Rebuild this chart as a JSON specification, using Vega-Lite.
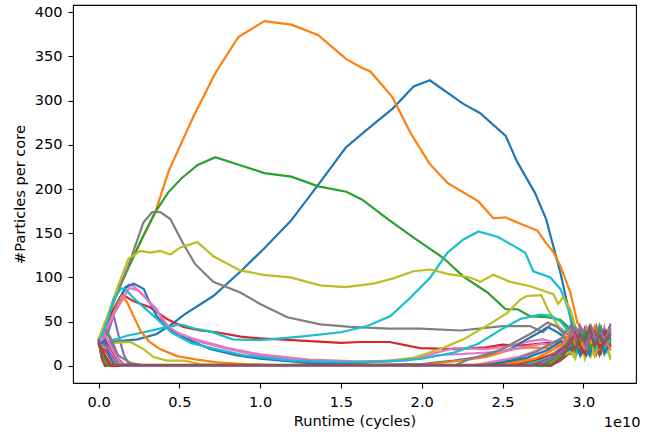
{
"$schema": "https://vega.github.io/schema/vega-lite/v6.json",
"width": 563, "height": 378,
"autosize": {"type": "none"},
"padding": {"left": 73, "top": 5, "right": 10, "bottom": 53},
"background": "white",
"config": {
 "view": {"stroke": "black", "strokeWidth": 1.1},
 "axis": {"labelFont": "DejaVu Sans", "titleFont": "DejaVu Sans", "labelFontSize": 14.6, "titleFontSize": 14.6, "labelColor": "black", "titleColor": "black", "titleFontWeight": "normal", "tickColor": "black", "tickSize": 5, "tickWidth": 1.1, "labelPadding": 6, "grid": false, "domain": false}
},
"datasets": {
 "runs": [
{"s":"c00","x":0,"y":25},{"s":"c00","x":0.13e10,"y":28},{"s":"c00","x":0.24e10,"y":30},{"s":"c00","x":0.36e10,"y":36},{"s":"c00","x":0.46e10,"y":48},{"s":"c00","x":0.53e10,"y":58},{"s":"c00","x":0.71e10,"y":79},{"s":"c00","x":0.88e10,"y":107},{"s":"c00","x":1.02e10,"y":132},{"s":"c00","x":1.19e10,"y":164},{"s":"c00","x":1.36e10,"y":205},{"s":"c00","x":1.53e10,"y":247},{"s":"c00","x":1.68e10,"y":270},{"s":"c00","x":1.82e10,"y":291},{"s":"c00","x":1.95e10,"y":316},{"s":"c00","x":2.05e10,"y":323},{"s":"c00","x":2.26e10,"y":296},{"s":"c00","x":2.36e10,"y":286},{"s":"c00","x":2.52e10,"y":260},{"s":"c00","x":2.59e10,"y":231},{"s":"c00","x":2.7e10,"y":196},{"s":"c00","x":2.77e10,"y":166},{"s":"c00","x":2.86e10,"y":104},{"s":"c00","x":2.95e10,"y":30},{"s":"c00","x":2.98e10,"y":20},{"s":"c00","x":3.01e10,"y":31},{"s":"c00","x":3.04e10,"y":16},{"s":"c00","x":3.07e10,"y":27},{"s":"c00","x":3.10e10,"y":13},{"s":"c00","x":3.13e10,"y":24},{"s":"c00","x":3.168e10,"y":19},
{"s":"c01","x":0,"y":28},{"s":"c01","x":0.05e10,"y":52},{"s":"c01","x":0.12e10,"y":86},{"s":"c01","x":0.175e10,"y":108},{"s":"c01","x":0.26e10,"y":140},{"s":"c01","x":0.351e10,"y":174},{"s":"c01","x":0.433e10,"y":220},{"s":"c01","x":0.587e10,"y":282},{"s":"c01","x":0.722e10,"y":331},{"s":"c01","x":0.865e10,"y":372},{"s":"c01","x":1.026e10,"y":390},{"s":"c01","x":1.193e10,"y":386},{"s":"c01","x":1.36e10,"y":374},{"s":"c01","x":1.533e10,"y":347},{"s":"c01","x":1.62e10,"y":338},{"s":"c01","x":1.682e10,"y":333},{"s":"c01","x":1.818e10,"y":304},{"s":"c01","x":1.929e10,"y":264},{"s":"c01","x":2.047e10,"y":229},{"s":"c01","x":2.159e10,"y":207},{"s":"c01","x":2.351e10,"y":186},{"s":"c01","x":2.443e10,"y":167},{"s":"c01","x":2.517e10,"y":168},{"s":"c01","x":2.622e10,"y":160},{"s":"c01","x":2.716e10,"y":153},{"s":"c01","x":2.765e10,"y":140},{"s":"c01","x":2.814e10,"y":129},{"s":"c01","x":2.858e10,"y":113},{"s":"c01","x":2.92e10,"y":83},{"s":"c01","x":2.963e10,"y":49},{"s":"c01","x":3.0e10,"y":38},{"s":"c01","x":3.03e10,"y":26},{"s":"c01","x":3.06e10,"y":41},{"s":"c01","x":3.09e10,"y":23},{"s":"c01","x":3.12e10,"y":36},{"s":"c01","x":3.168e10,"y":28},
{"s":"c02","x":0,"y":28},{"s":"c02","x":0.05e10,"y":52},{"s":"c02","x":0.12e10,"y":85},{"s":"c02","x":0.175e10,"y":107},{"s":"c02","x":0.26e10,"y":141},{"s":"c02","x":0.351e10,"y":174},{"s":"c02","x":0.43e10,"y":196},{"s":"c02","x":0.512e10,"y":212},{"s":"c02","x":0.611e10,"y":227},{"s":"c02","x":0.722e10,"y":236},{"s":"c02","x":0.877e10,"y":227},{"s":"c02","x":1.026e10,"y":218},{"s":"c02","x":1.193e10,"y":214},{"s":"c02","x":1.36e10,"y":203},{"s":"c02","x":1.533e10,"y":197},{"s":"c02","x":1.632e10,"y":188},{"s":"c02","x":1.79e10,"y":166},{"s":"c02","x":1.95e10,"y":145},{"s":"c02","x":2.134e10,"y":122},{"s":"c02","x":2.258e10,"y":101},{"s":"c02","x":2.407e10,"y":83},{"s":"c02","x":2.519e10,"y":64},{"s":"c02","x":2.593e10,"y":64},{"s":"c02","x":2.674e10,"y":56},{"s":"c02","x":2.78e10,"y":55},{"s":"c02","x":2.858e10,"y":52},{"s":"c02","x":2.939e10,"y":38},{"s":"c02","x":2.97e10,"y":28},{"s":"c02","x":3.0e10,"y":35},{"s":"c02","x":3.03e10,"y":20},{"s":"c02","x":3.06e10,"y":30},{"s":"c02","x":3.09e10,"y":41},{"s":"c02","x":3.12e10,"y":22},{"s":"c02","x":3.168e10,"y":33},
{"s":"c03","x":0,"y":25},{"s":"c03","x":0.03e10,"y":34},{"s":"c03","x":0.072e10,"y":58},{"s":"c03","x":0.145e10,"y":81},{"s":"c03","x":0.217e10,"y":73},{"s":"c03","x":0.32e10,"y":66},{"s":"c03","x":0.423e10,"y":53},{"s":"c03","x":0.525e10,"y":44},{"s":"c03","x":0.63e10,"y":40},{"s":"c03","x":0.73e10,"y":38},{"s":"c03","x":0.88e10,"y":33},{"s":"c03","x":1.0e10,"y":31},{"s":"c03","x":1.2e10,"y":29},{"s":"c03","x":1.5e10,"y":26},{"s":"c03","x":1.62e10,"y":27},{"s":"c03","x":1.8e10,"y":27},{"s":"c03","x":1.99e10,"y":20},{"s":"c03","x":2.2e10,"y":19},{"s":"c03","x":2.4e10,"y":21},{"s":"c03","x":2.5e10,"y":24},{"s":"c03","x":2.61e10,"y":23},{"s":"c03","x":2.78e10,"y":26},{"s":"c03","x":2.86e10,"y":28},{"s":"c03","x":2.92e10,"y":30},{"s":"c03","x":2.95e10,"y":22},{"s":"c03","x":2.98e10,"y":35},{"s":"c03","x":3.01e10,"y":19},{"s":"c03","x":3.04e10,"y":31},{"s":"c03","x":3.07e10,"y":40},{"s":"c03","x":3.10e10,"y":18},{"s":"c03","x":3.13e10,"y":29},{"s":"c03","x":3.168e10,"y":24},
{"s":"c04","x":0,"y":25},{"s":"c04","x":0.06e10,"y":38},{"s":"c04","x":0.093e10,"y":57},{"s":"c04","x":0.124e10,"y":34},{"s":"c04","x":0.155e10,"y":13},{"s":"c04","x":0.19e10,"y":1},{"s":"c04","x":0.25e10,"y":0},{"s":"c04","x":2.7e10,"y":0},{"s":"c04","x":2.8e10,"y":6},{"s":"c04","x":2.88e10,"y":14},{"s":"c04","x":2.92e10,"y":22},{"s":"c04","x":2.95e10,"y":38},{"s":"c04","x":2.98e10,"y":17},{"s":"c04","x":3.01e10,"y":40},{"s":"c04","x":3.04e10,"y":24},{"s":"c04","x":3.07e10,"y":44},{"s":"c04","x":3.10e10,"y":20},{"s":"c04","x":3.13e10,"y":37},{"s":"c04","x":3.168e10,"y":26},
{"s":"c05","x":0,"y":30},{"s":"c05","x":0.02e10,"y":10},{"s":"c05","x":0.04e10,"y":0},{"s":"c05","x":2.75e10,"y":0},{"s":"c05","x":2.85e10,"y":5},{"s":"c05","x":2.92e10,"y":15},{"s":"c05","x":2.95e10,"y":28},{"s":"c05","x":2.98e10,"y":38},{"s":"c05","x":3.01e10,"y":20},{"s":"c05","x":3.04e10,"y":33},{"s":"c05","x":3.07e10,"y":14},{"s":"c05","x":3.10e10,"y":30},{"s":"c05","x":3.13e10,"y":42},{"s":"c05","x":3.168e10,"y":21},
{"s":"c06","x":0,"y":25},{"s":"c06","x":0.05e10,"y":40},{"s":"c06","x":0.1e10,"y":62},{"s":"c06","x":0.15e10,"y":82},{"s":"c06","x":0.186e10,"y":92},{"s":"c06","x":0.217e10,"y":90},{"s":"c06","x":0.279e10,"y":79},{"s":"c06","x":0.36e10,"y":64},{"s":"c06","x":0.423e10,"y":42},{"s":"c06","x":0.485e10,"y":38},{"s":"c06","x":0.61e10,"y":28},{"s":"c06","x":0.8e10,"y":19},{"s":"c06","x":1.0e10,"y":11},{"s":"c06","x":1.31e10,"y":6},{"s":"c06","x":1.62e10,"y":4},{"s":"c06","x":1.8e10,"y":6},{"s":"c06","x":1.99e10,"y":10},{"s":"c06","x":2.2e10,"y":20},{"s":"c06","x":2.4e10,"y":19},{"s":"c06","x":2.53e10,"y":22},{"s":"c06","x":2.67e10,"y":28},{"s":"c06","x":2.75e10,"y":30},{"s":"c06","x":2.85e10,"y":25},{"s":"c06","x":2.92e10,"y":33},{"s":"c06","x":2.95e10,"y":18},{"s":"c06","x":2.98e10,"y":29},{"s":"c06","x":3.01e10,"y":37},{"s":"c06","x":3.04e10,"y":15},{"s":"c06","x":3.07e10,"y":26},{"s":"c06","x":3.10e10,"y":39},{"s":"c06","x":3.13e10,"y":17},{"s":"c06","x":3.168e10,"y":31},
{"s":"c07","x":0,"y":30},{"s":"c07","x":0.05e10,"y":52},{"s":"c07","x":0.12e10,"y":85},{"s":"c07","x":0.178e10,"y":110},{"s":"c07","x":0.277e10,"y":162},{"s":"c07","x":0.332e10,"y":174},{"s":"c07","x":0.382e10,"y":174},{"s":"c07","x":0.444e10,"y":166},{"s":"c07","x":0.518e10,"y":140},{"s":"c07","x":0.598e10,"y":115},{"s":"c07","x":0.71e10,"y":95},{"s":"c07","x":0.877e10,"y":83},{"s":"c07","x":1.0e10,"y":70},{"s":"c07","x":1.168e10,"y":55},{"s":"c07","x":1.372e10,"y":47},{"s":"c07","x":1.558e10,"y":44},{"s":"c07","x":1.8e10,"y":42},{"s":"c07","x":1.99e10,"y":42},{"s":"c07","x":2.24e10,"y":40},{"s":"c07","x":2.5e10,"y":45},{"s":"c07","x":2.67e10,"y":45},{"s":"c07","x":2.75e10,"y":38},{"s":"c07","x":2.8e10,"y":47},{"s":"c07","x":2.85e10,"y":44},{"s":"c07","x":2.9e10,"y":36},{"s":"c07","x":2.93e10,"y":28},{"s":"c07","x":2.96e10,"y":41},{"s":"c07","x":2.99e10,"y":24},{"s":"c07","x":3.02e10,"y":37},{"s":"c07","x":3.05e10,"y":30},{"s":"c07","x":3.08e10,"y":45},{"s":"c07","x":3.11e10,"y":27},{"s":"c07","x":3.14e10,"y":35},{"s":"c07","x":3.168e10,"y":46},
{"s":"c08","x":0,"y":22},{"s":"c08","x":0.1e10,"y":26},{"s":"c08","x":0.197e10,"y":27},{"s":"c08","x":0.278e10,"y":19},{"s":"c08","x":0.34e10,"y":10},{"s":"c08","x":0.423e10,"y":6},{"s":"c08","x":0.525e10,"y":6},{"s":"c08","x":0.63e10,"y":2},{"s":"c08","x":0.9e10,"y":0},{"s":"c08","x":1.5e10,"y":2},{"s":"c08","x":1.8e10,"y":5},{"s":"c08","x":1.95e10,"y":9},{"s":"c08","x":2.116e10,"y":19},{"s":"c08","x":2.258e10,"y":30},{"s":"c08","x":2.4e10,"y":45},{"s":"c08","x":2.53e10,"y":60},{"s":"c08","x":2.61e10,"y":75},{"s":"c08","x":2.65e10,"y":79},{"s":"c08","x":2.74e10,"y":80},{"s":"c08","x":2.78e10,"y":64},{"s":"c08","x":2.82e10,"y":52},{"s":"c08","x":2.88e10,"y":36},{"s":"c08","x":2.92e10,"y":24},{"s":"c08","x":2.95e10,"y":12},{"s":"c08","x":2.98e10,"y":30},{"s":"c08","x":3.01e10,"y":8},{"s":"c08","x":3.04e10,"y":27},{"s":"c08","x":3.07e10,"y":35},{"s":"c08","x":3.10e10,"y":15},{"s":"c08","x":3.13e10,"y":32},{"s":"c08","x":3.168e10,"y":10},
{"s":"c09","x":0,"y":27},{"s":"c09","x":0.07e10,"y":28},{"s":"c09","x":0.175e10,"y":34},{"s":"c09","x":0.28e10,"y":38},{"s":"c09","x":0.4e10,"y":43},{"s":"c09","x":0.506e10,"y":47},{"s":"c09","x":0.6e10,"y":42},{"s":"c09","x":0.69e10,"y":39},{"s":"c09","x":0.83e10,"y":30},{"s":"c09","x":1.0e10,"y":29},{"s":"c09","x":1.25e10,"y":33},{"s":"c09","x":1.5e10,"y":38},{"s":"c09","x":1.662e10,"y":45},{"s":"c09","x":1.805e10,"y":56},{"s":"c09","x":1.929e10,"y":77},{"s":"c09","x":2.053e10,"y":100},{"s":"c09","x":2.159e10,"y":128},{"s":"c09","x":2.258e10,"y":143},{"s":"c09","x":2.351e10,"y":152},{"s":"c09","x":2.468e10,"y":146},{"s":"c09","x":2.567e10,"y":136},{"s":"c09","x":2.641e10,"y":128},{"s":"c09","x":2.69e10,"y":107},{"s":"c09","x":2.796e10,"y":100},{"s":"c09","x":2.858e10,"y":87},{"s":"c09","x":2.9e10,"y":68},{"s":"c09","x":2.95e10,"y":40},{"s":"c09","x":2.98e10,"y":25},{"s":"c09","x":3.01e10,"y":36},{"s":"c09","x":3.04e10,"y":21},{"s":"c09","x":3.07e10,"y":33},{"s":"c09","x":3.10e10,"y":43},{"s":"c09","x":3.13e10,"y":19},{"s":"c09","x":3.168e10,"y":29},
{"s":"c10","x":0,"y":25},{"s":"c10","x":0.05e10,"y":42},{"s":"c10","x":0.1e10,"y":65},{"s":"c10","x":0.166e10,"y":89},{"s":"c10","x":0.217e10,"y":93},{"s":"c10","x":0.28e10,"y":87},{"s":"c10","x":0.31e10,"y":74},{"s":"c10","x":0.36e10,"y":56},{"s":"c10","x":0.42e10,"y":44},{"s":"c10","x":0.506e10,"y":34},{"s":"c10","x":0.6e10,"y":26},{"s":"c10","x":0.69e10,"y":19},{"s":"c10","x":0.85e10,"y":12},{"s":"c10","x":1.0e10,"y":8},{"s":"c10","x":1.31e10,"y":3},{"s":"c10","x":1.7e10,"y":1},{"s":"c10","x":2.0e10,"y":2},{"s":"c10","x":2.2e10,"y":6},{"s":"c10","x":2.4e10,"y":11},{"s":"c10","x":2.55e10,"y":19},{"s":"c10","x":2.63e10,"y":28},{"s":"c10","x":2.73e10,"y":38},{"s":"c10","x":2.78e10,"y":44},{"s":"c10","x":2.84e10,"y":38},{"s":"c10","x":2.9e10,"y":30},{"s":"c10","x":2.93e10,"y":17},{"s":"c10","x":2.96e10,"y":35},{"s":"c10","x":2.99e10,"y":22},{"s":"c10","x":3.02e10,"y":12},{"s":"c10","x":3.05e10,"y":29},{"s":"c10","x":3.08e10,"y":38},{"s":"c10","x":3.11e10,"y":16},{"s":"c10","x":3.14e10,"y":27},{"s":"c10","x":3.168e10,"y":34},
{"s":"c11","x":0,"y":25},{"s":"c11","x":0.05e10,"y":42},{"s":"c11","x":0.1e10,"y":63},{"s":"c11","x":0.145e10,"y":79},{"s":"c11","x":0.176e10,"y":72},{"s":"c11","x":0.217e10,"y":56},{"s":"c11","x":0.258e10,"y":40},{"s":"c11","x":0.31e10,"y":28},{"s":"c11","x":0.38e10,"y":19},{"s":"c11","x":0.485e10,"y":11},{"s":"c11","x":0.61e10,"y":7},{"s":"c11","x":0.733e10,"y":4},{"s":"c11","x":0.9e10,"y":2},{"s":"c11","x":1.2e10,"y":0},{"s":"c11","x":2.0e10,"y":1},{"s":"c11","x":2.24e10,"y":6},{"s":"c11","x":2.4e10,"y":10},{"s":"c11","x":2.49e10,"y":15},{"s":"c11","x":2.55e10,"y":19},{"s":"c11","x":2.67e10,"y":21},{"s":"c11","x":2.78e10,"y":20},{"s":"c11","x":2.86e10,"y":24},{"s":"c11","x":2.92e10,"y":31},{"s":"c11","x":2.95e10,"y":16},{"s":"c11","x":2.98e10,"y":27},{"s":"c11","x":3.01e10,"y":42},{"s":"c11","x":3.04e10,"y":19},{"s":"c11","x":3.07e10,"y":30},{"s":"c11","x":3.10e10,"y":24},{"s":"c11","x":3.13e10,"y":38},{"s":"c11","x":3.168e10,"y":22},
{"s":"c12","x":0,"y":25},{"s":"c12","x":0.04e10,"y":40},{"s":"c12","x":0.08e10,"y":28},{"s":"c12","x":0.12e10,"y":8},{"s":"c12","x":0.16e10,"y":0},{"s":"c12","x":2.6e10,"y":0},{"s":"c12","x":2.75e10,"y":5},{"s":"c12","x":2.85e10,"y":14},{"s":"c12","x":2.92e10,"y":27},{"s":"c12","x":2.95e10,"y":40},{"s":"c12","x":2.98e10,"y":21},{"s":"c12","x":3.01e10,"y":33},{"s":"c12","x":3.04e10,"y":45},{"s":"c12","x":3.07e10,"y":18},{"s":"c12","x":3.10e10,"y":36},{"s":"c12","x":3.13e10,"y":25},{"s":"c12","x":3.168e10,"y":40},
{"s":"c13","x":0,"y":25},{"s":"c13","x":0.04e10,"y":30},{"s":"c13","x":0.08e10,"y":18},{"s":"c13","x":0.12e10,"y":5},{"s":"c13","x":0.16e10,"y":0},{"s":"c13","x":2.72e10,"y":0},{"s":"c13","x":2.83e10,"y":8},{"s":"c13","x":2.9e10,"y":20},{"s":"c13","x":2.93e10,"y":34},{"s":"c13","x":2.96e10,"y":18},{"s":"c13","x":2.99e10,"y":28},{"s":"c13","x":3.02e10,"y":39},{"s":"c13","x":3.05e10,"y":21},{"s":"c13","x":3.08e10,"y":32},{"s":"c13","x":3.11e10,"y":15},{"s":"c13","x":3.14e10,"y":36},{"s":"c13","x":3.168e10,"y":27},
{"s":"c14","x":0,"y":30},{"s":"c14","x":0.04e10,"y":48},{"s":"c14","x":0.08e10,"y":25},{"s":"c14","x":0.12e10,"y":8},{"s":"c14","x":0.17e10,"y":0},{"s":"c14","x":2.6e10,"y":0},{"s":"c14","x":2.75e10,"y":6},{"s":"c14","x":2.85e10,"y":15},{"s":"c14","x":2.92e10,"y":29},{"s":"c14","x":2.95e10,"y":44},{"s":"c14","x":2.98e10,"y":25},{"s":"c14","x":3.01e10,"y":15},{"s":"c14","x":3.04e10,"y":38},{"s":"c14","x":3.07e10,"y":27},{"s":"c14","x":3.10e10,"y":45},{"s":"c14","x":3.13e10,"y":20},{"s":"c14","x":3.168e10,"y":35},
{"s":"c15","x":0,"y":28},{"s":"c15","x":0.02e10,"y":12},{"s":"c15","x":0.04e10,"y":0},{"s":"c15","x":2.8e10,"y":0},{"s":"c15","x":2.88e10,"y":9},{"s":"c15","x":2.93e10,"y":21},{"s":"c15","x":2.96e10,"y":33},{"s":"c15","x":2.99e10,"y":14},{"s":"c15","x":3.02e10,"y":29},{"s":"c15","x":3.05e10,"y":41},{"s":"c15","x":3.08e10,"y":19},{"s":"c15","x":3.11e10,"y":34},{"s":"c15","x":3.14e10,"y":23},{"s":"c15","x":3.168e10,"y":38},
{"s":"c16","x":0,"y":25},{"s":"c16","x":0.1e10,"y":60},{"s":"c16","x":0.19e10,"y":88},{"s":"c16","x":0.25e10,"y":85},{"s":"c16","x":0.3e10,"y":75},{"s":"c16","x":0.36e10,"y":62},{"s":"c16","x":0.43e10,"y":45},{"s":"c16","x":0.5e10,"y":36},{"s":"c16","x":0.6e10,"y":30},{"s":"c16","x":0.8e10,"y":20},{"s":"c16","x":1.0e10,"y":13},{"s":"c16","x":1.3e10,"y":7},{"s":"c16","x":1.6e10,"y":5},{"s":"c16","x":1.9e10,"y":6},{"s":"c16","x":2.1e10,"y":12},{"s":"c16","x":2.3e10,"y":14},{"s":"c16","x":2.5e10,"y":16},{"s":"c16","x":2.65e10,"y":22},{"s":"c16","x":2.75e10,"y":25},{"s":"c16","x":2.85e10,"y":22},{"s":"c16","x":2.92e10,"y":37},{"s":"c16","x":2.95e10,"y":23},{"s":"c16","x":2.98e10,"y":14},{"s":"c16","x":3.01e10,"y":31},{"s":"c16","x":3.04e10,"y":42},{"s":"c16","x":3.07e10,"y":20},{"s":"c16","x":3.10e10,"y":28},{"s":"c16","x":3.13e10,"y":44},{"s":"c16","x":3.168e10,"y":17},
{"s":"c17","x":0,"y":30},{"s":"c17","x":0.04e10,"y":42},{"s":"c17","x":0.08e10,"y":30},{"s":"c17","x":0.12e10,"y":12},{"s":"c17","x":0.2e10,"y":3},{"s":"c17","x":0.3e10,"y":0},{"s":"c17","x":2.2e10,"y":0},{"s":"c17","x":2.3e10,"y":8},{"s":"c17","x":2.4e10,"y":13},{"s":"c17","x":2.5e10,"y":19},{"s":"c17","x":2.61e10,"y":30},{"s":"c17","x":2.69e10,"y":38},{"s":"c17","x":2.78e10,"y":49},{"s":"c17","x":2.84e10,"y":44},{"s":"c17","x":2.88e10,"y":36},{"s":"c17","x":2.92e10,"y":45},{"s":"c17","x":2.95e10,"y":30},{"s":"c17","x":2.98e10,"y":20},{"s":"c17","x":3.01e10,"y":38},{"s":"c17","x":3.04e10,"y":29},{"s":"c17","x":3.07e10,"y":16},{"s":"c17","x":3.10e10,"y":41},{"s":"c17","x":3.13e10,"y":33},{"s":"c17","x":3.168e10,"y":24},
{"s":"c18","x":0,"y":30},{"s":"c18","x":0.05e10,"y":54},{"s":"c18","x":0.12e10,"y":90},{"s":"c18","x":0.184e10,"y":121},{"s":"c18","x":0.258e10,"y":130},{"s":"c18","x":0.32e10,"y":128},{"s":"c18","x":0.382e10,"y":130},{"s":"c18","x":0.444e10,"y":126},{"s":"c18","x":0.506e10,"y":134},{"s":"c18","x":0.611e10,"y":140},{"s":"c18","x":0.71e10,"y":124},{"s":"c18","x":0.877e10,"y":108},{"s":"c18","x":1.02e10,"y":103},{"s":"c18","x":1.186e10,"y":100},{"s":"c18","x":1.372e10,"y":91},{"s":"c18","x":1.527e10,"y":89},{"s":"c18","x":1.7e10,"y":93},{"s":"c18","x":1.824e10,"y":99},{"s":"c18","x":1.948e10,"y":107},{"s":"c18","x":2.053e10,"y":109},{"s":"c18","x":2.159e10,"y":104},{"s":"c18","x":2.3e10,"y":100},{"s":"c18","x":2.362e10,"y":95},{"s":"c18","x":2.443e10,"y":103},{"s":"c18","x":2.548e10,"y":95},{"s":"c18","x":2.672e10,"y":90},{"s":"c18","x":2.814e10,"y":81},{"s":"c18","x":2.845e10,"y":70},{"s":"c18","x":2.876e10,"y":78},{"s":"c18","x":2.92e10,"y":64},{"s":"c18","x":2.96e10,"y":38},{"s":"c18","x":2.99e10,"y":22},{"s":"c18","x":3.02e10,"y":33},{"s":"c18","x":3.05e10,"y":12},{"s":"c18","x":3.08e10,"y":28},{"s":"c18","x":3.11e10,"y":37},{"s":"c18","x":3.14e10,"y":18},{"s":"c18","x":3.168e10,"y":30},
{"s":"c19","x":0,"y":25},{"s":"c19","x":0.05e10,"y":48},{"s":"c19","x":0.093e10,"y":75},{"s":"c19","x":0.14e10,"y":88},{"s":"c19","x":0.17e10,"y":86},{"s":"c19","x":0.22e10,"y":76},{"s":"c19","x":0.3e10,"y":63},{"s":"c19","x":0.38e10,"y":50},{"s":"c19","x":0.45e10,"y":38},{"s":"c19","x":0.57e10,"y":26},{"s":"c19","x":0.7e10,"y":20},{"s":"c19","x":0.9e10,"y":12},{"s":"c19","x":1.2e10,"y":6},{"s":"c19","x":1.5e10,"y":4},{"s":"c19","x":1.8e10,"y":5},{"s":"c19","x":2.0e10,"y":8},{"s":"c19","x":2.2e10,"y":15},{"s":"c19","x":2.35e10,"y":25},{"s":"c19","x":2.49e10,"y":41},{"s":"c19","x":2.61e10,"y":53},{"s":"c19","x":2.73e10,"y":58},{"s":"c19","x":2.8e10,"y":57},{"s":"c19","x":2.86e10,"y":50},{"s":"c19","x":2.92e10,"y":36},{"s":"c19","x":2.95e10,"y":26},{"s":"c19","x":2.98e10,"y":42},{"s":"c19","x":3.01e10,"y":24},{"s":"c19","x":3.04e10,"y":17},{"s":"c19","x":3.07e10,"y":38},{"s":"c19","x":3.10e10,"y":29},{"s":"c19","x":3.13e10,"y":13},{"s":"c19","x":3.168e10,"y":32},
{"s":"c20","x":0,"y":26},{"s":"c20","x":0.03e10,"y":14},{"s":"c20","x":0.06e10,"y":0},{"s":"c20","x":2.5e10,"y":0},{"s":"c20","x":2.65e10,"y":4},{"s":"c20","x":2.8e10,"y":12},{"s":"c20","x":2.88e10,"y":22},{"s":"c20","x":2.92e10,"y":14},{"s":"c20","x":2.95e10,"y":31},{"s":"c20","x":2.98e10,"y":43},{"s":"c20","x":3.01e10,"y":26},{"s":"c20","x":3.04e10,"y":12},{"s":"c20","x":3.07e10,"y":34},{"s":"c20","x":3.10e10,"y":22},{"s":"c20","x":3.13e10,"y":40},{"s":"c20","x":3.168e10,"y":28},
{"s":"c21","x":0,"y":25},{"s":"c21","x":0.04e10,"y":12},{"s":"c21","x":0.08e10,"y":0},{"s":"c21","x":2.45e10,"y":0},{"s":"c21","x":2.6e10,"y":5},{"s":"c21","x":2.75e10,"y":10},{"s":"c21","x":2.85e10,"y":16},{"s":"c21","x":2.92e10,"y":27},{"s":"c21","x":2.95e10,"y":39},{"s":"c21","x":2.98e10,"y":18},{"s":"c21","x":3.01e10,"y":30},{"s":"c21","x":3.04e10,"y":22},{"s":"c21","x":3.07e10,"y":41},{"s":"c21","x":3.10e10,"y":33},{"s":"c21","x":3.13e10,"y":14},{"s":"c21","x":3.168e10,"y":26},
{"s":"c22","x":0,"y":25},{"s":"c22","x":0.03e10,"y":10},{"s":"c22","x":0.06e10,"y":0},{"s":"c22","x":2.7e10,"y":0},{"s":"c22","x":2.82e10,"y":8},{"s":"c22","x":2.9e10,"y":18},{"s":"c22","x":2.93e10,"y":36},{"s":"c22","x":2.96e10,"y":25},{"s":"c22","x":2.99e10,"y":40},{"s":"c22","x":3.02e10,"y":16},{"s":"c22","x":3.05e10,"y":32},{"s":"c22","x":3.08e10,"y":24},{"s":"c22","x":3.11e10,"y":43},{"s":"c22","x":3.14e10,"y":19},{"s":"c22","x":3.168e10,"y":31},
{"s":"c23","x":0,"y":28},{"s":"c23","x":0.05e10,"y":15},{"s":"c23","x":0.1e10,"y":2},{"s":"c23","x":0.14e10,"y":0},{"s":"c23","x":2.55e10,"y":0},{"s":"c23","x":2.7e10,"y":6},{"s":"c23","x":2.83e10,"y":14},{"s":"c23","x":2.9e10,"y":25},{"s":"c23","x":2.93e10,"y":17},{"s":"c23","x":2.96e10,"y":29},{"s":"c23","x":2.99e10,"y":41},{"s":"c23","x":3.02e10,"y":23},{"s":"c23","x":3.05e10,"y":35},{"s":"c23","x":3.08e10,"y":13},{"s":"c23","x":3.11e10,"y":28},{"s":"c23","x":3.14e10,"y":39},{"s":"c23","x":3.168e10,"y":22},
{"s":"c24","x":0,"y":26},{"s":"c24","x":0.03e10,"y":30},{"s":"c24","x":0.06e10,"y":12},{"s":"c24","x":0.1e10,"y":0},{"s":"c24","x":2.65e10,"y":0},{"s":"c24","x":2.78e10,"y":7},{"s":"c24","x":2.86e10,"y":18},{"s":"c24","x":2.92e10,"y":35},{"s":"c24","x":2.95e10,"y":21},{"s":"c24","x":2.98e10,"y":45},{"s":"c24","x":3.01e10,"y":27},{"s":"c24","x":3.04e10,"y":36},{"s":"c24","x":3.07e10,"y":17},{"s":"c24","x":3.10e10,"y":42},{"s":"c24","x":3.13e10,"y":29},{"s":"c24","x":3.168e10,"y":44},
{"s":"c25","x":0,"y":30},{"s":"c25","x":0.02e10,"y":8},{"s":"c25","x":0.04e10,"y":0},{"s":"c25","x":2.78e10,"y":0},{"s":"c25","x":2.86e10,"y":10},{"s":"c25","x":2.92e10,"y":24},{"s":"c25","x":2.95e10,"y":36},{"s":"c25","x":2.98e10,"y":19},{"s":"c25","x":3.01e10,"y":42},{"s":"c25","x":3.04e10,"y":26},{"s":"c25","x":3.07e10,"y":31},{"s":"c25","x":3.10e10,"y":13},{"s":"c25","x":3.13e10,"y":35},{"s":"c25","x":3.168e10,"y":29},
{"s":"c26","x":0,"y":25},{"s":"c26","x":0.04e10,"y":35},{"s":"c26","x":0.08e10,"y":20},{"s":"c26","x":0.13e10,"y":4},{"s":"c26","x":0.2e10,"y":0},{"s":"c26","x":2.3e10,"y":0},{"s":"c26","x":2.45e10,"y":5},{"s":"c26","x":2.6e10,"y":10},{"s":"c26","x":2.72e10,"y":18},{"s":"c26","x":2.82e10,"y":27},{"s":"c26","x":2.9e10,"y":24},{"s":"c26","x":2.93e10,"y":39},{"s":"c26","x":2.96e10,"y":20},{"s":"c26","x":2.99e10,"y":31},{"s":"c26","x":3.02e10,"y":44},{"s":"c26","x":3.05e10,"y":25},{"s":"c26","x":3.08e10,"y":18},{"s":"c26","x":3.11e10,"y":36},{"s":"c26","x":3.14e10,"y":27},{"s":"c26","x":3.168e10,"y":41},
{"s":"c27","x":0,"y":25},{"s":"c27","x":0.03e10,"y":12},{"s":"c27","x":0.06e10,"y":0},{"s":"c27","x":2.4e10,"y":0},{"s":"c27","x":2.55e10,"y":6},{"s":"c27","x":2.7e10,"y":15},{"s":"c27","x":2.8e10,"y":25},{"s":"c27","x":2.88e10,"y":33},{"s":"c27","x":2.92e10,"y":20},{"s":"c27","x":2.95e10,"y":43},{"s":"c27","x":2.98e10,"y":32},{"s":"c27","x":3.01e10,"y":18},{"s":"c27","x":3.04e10,"y":37},{"s":"c27","x":3.07e10,"y":25},{"s":"c27","x":3.10e10,"y":46},{"s":"c27","x":3.13e10,"y":22},{"s":"c27","x":3.168e10,"y":48},
{"s":"c28","x":0,"y":24},{"s":"c28","x":0.05e10,"y":20},{"s":"c28","x":0.1e10,"y":5},{"s":"c28","x":0.15e10,"y":0},{"s":"c28","x":2.75e10,"y":0},{"s":"c28","x":2.85e10,"y":9},{"s":"c28","x":2.92e10,"y":16},{"s":"c28","x":2.95e10,"y":8},{"s":"c28","x":2.98e10,"y":27},{"s":"c28","x":3.01e10,"y":19},{"s":"c28","x":3.04e10,"y":34},{"s":"c28","x":3.07e10,"y":11},{"s":"c28","x":3.10e10,"y":25},{"s":"c28","x":3.13e10,"y":30},{"s":"c28","x":3.168e10,"y":7},
{"s":"c29","x":0,"y":27},{"s":"c29","x":0.03e10,"y":15},{"s":"c29","x":0.07e10,"y":0},{"s":"c29","x":2.6e10,"y":0},{"s":"c29","x":2.72e10,"y":5},{"s":"c29","x":2.82e10,"y":12},{"s":"c29","x":2.9e10,"y":22},{"s":"c29","x":2.93e10,"y":30},{"s":"c29","x":2.96e10,"y":15},{"s":"c29","x":2.99e10,"y":37},{"s":"c29","x":3.02e10,"y":26},{"s":"c29","x":3.05e10,"y":42},{"s":"c29","x":3.08e10,"y":20},{"s":"c29","x":3.11e10,"y":31},{"s":"c29","x":3.14e10,"y":16},{"s":"c29","x":3.168e10,"y":35},
{"s":"c30","x":0,"y":25},{"s":"c30","x":0.04e10,"y":28},{"s":"c30","x":0.07e10,"y":10},{"s":"c30","x":0.1e10,"y":0},{"s":"c30","x":2.35e10,"y":0},{"s":"c30","x":2.5e10,"y":4},{"s":"c30","x":2.65e10,"y":9},{"s":"c30","x":2.78e10,"y":18},{"s":"c30","x":2.86e10,"y":28},{"s":"c30","x":2.92e10,"y":19},{"s":"c30","x":2.95e10,"y":29},{"s":"c30","x":2.98e10,"y":12},{"s":"c30","x":3.01e10,"y":34},{"s":"c30","x":3.04e10,"y":40},{"s":"c30","x":3.07e10,"y":23},{"s":"c30","x":3.10e10,"y":37},{"s":"c30","x":3.13e10,"y":15},{"s":"c30","x":3.168e10,"y":25},
{"s":"c31","x":0,"y":25},{"s":"c31","x":0.03e10,"y":10},{"s":"c31","x":0.06e10,"y":0},{"s":"c31","x":2.5e10,"y":0},{"s":"c31","x":2.7e10,"y":8},{"s":"c31","x":2.8e10,"y":17},{"s":"c31","x":2.88e10,"y":25},{"s":"c31","x":2.92e10,"y":40},{"s":"c31","x":2.95e10,"y":22},{"s":"c31","x":2.98e10,"y":33},{"s":"c31","x":3.01e10,"y":16},{"s":"c31","x":3.04e10,"y":29},{"s":"c31","x":3.07e10,"y":44},{"s":"c31","x":3.10e10,"y":20},{"s":"c31","x":3.13e10,"y":31},{"s":"c31","x":3.168e10,"y":19},
{"s":"c32","x":0,"y":25},{"s":"c32","x":0.04e10,"y":8},{"s":"c32","x":0.07e10,"y":0},{"s":"c32","x":2.75e10,"y":0},{"s":"c32","x":2.84e10,"y":10},{"s":"c32","x":2.92e10,"y":31},{"s":"c32","x":2.95e10,"y":17},{"s":"c32","x":2.98e10,"y":26},{"s":"c32","x":3.01e10,"y":39},{"s":"c32","x":3.04e10,"y":20},{"s":"c32","x":3.07e10,"y":28},{"s":"c32","x":3.10e10,"y":41},{"s":"c32","x":3.13e10,"y":23},{"s":"c32","x":3.168e10,"y":36},
{"s":"c33","x":0,"y":25},{"s":"c33","x":0.04e10,"y":12},{"s":"c33","x":0.08e10,"y":0},{"s":"c33","x":2.68e10,"y":0},{"s":"c33","x":2.8e10,"y":9},{"s":"c33","x":2.88e10,"y":20},{"s":"c33","x":2.92e10,"y":26},{"s":"c33","x":2.95e10,"y":37},{"s":"c33","x":2.98e10,"y":23},{"s":"c33","x":3.01e10,"y":14},{"s":"c33","x":3.04e10,"y":32},{"s":"c33","x":3.07e10,"y":39},{"s":"c33","x":3.10e10,"y":21},{"s":"c33","x":3.13e10,"y":28},{"s":"c33","x":3.168e10,"y":33},
{"s":"c34","x":0,"y":25},{"s":"c34","x":0.05e10,"y":22},{"s":"c34","x":0.1e10,"y":6},{"s":"c34","x":0.14e10,"y":0},{"s":"c34","x":2.7e10,"y":0},{"s":"c34","x":2.82e10,"y":10},{"s":"c34","x":2.9e10,"y":21},{"s":"c34","x":2.93e10,"y":42},{"s":"c34","x":2.96e10,"y":28},{"s":"c34","x":2.99e10,"y":35},{"s":"c34","x":3.02e10,"y":19},{"s":"c34","x":3.05e10,"y":44},{"s":"c34","x":3.08e10,"y":30},{"s":"c34","x":3.11e10,"y":38},{"s":"c34","x":3.14e10,"y":25},{"s":"c34","x":3.168e10,"y":43},
{"s":"c35","x":0,"y":28},{"s":"c35","x":0.02e10,"y":9},{"s":"c35","x":0.04e10,"y":1},{"s":"c35","x":2.8e10,"y":1},{"s":"c35","x":2.88e10,"y":12},{"s":"c35","x":2.92e10,"y":30},{"s":"c35","x":2.95e10,"y":19},{"s":"c35","x":2.98e10,"y":36},{"s":"c35","x":3.01e10,"y":27},{"s":"c35","x":3.04e10,"y":43},{"s":"c35","x":3.07e10,"y":22},{"s":"c35","x":3.10e10,"y":34},{"s":"c35","x":3.13e10,"y":26},{"s":"c35","x":3.168e10,"y":37}
 ],
 "offset": [{"x": 0}]
},
"layer": [
 {
  "data": {"name": "runs"},
  "mark": {"type": "line", "strokeWidth": 2.2, "clip": true},
  "encoding": {
   "x": {"field": "x", "type": "quantitative", "scale": {"domain": [-0.1584e10, 3.3262e10], "nice": false, "zero": false},
     "axis": {"values": [0, 0.5e10, 1e10, 1.5e10, 2e10, 2.5e10, 3e10], "labelExpr": "format(datum.value / 1e10, '.1f')", "title": "Runtime (cycles)", "titlePadding": 5}},
   "y": {"field": "y", "type": "quantitative", "scale": {"domain": [-19.4, 408.2], "nice": false, "zero": false},
     "axis": {"values": [0, 50, 100, 150, 200, 250, 300, 350, 400], "title": "#Particles per core", "titlePadding": 7}},
   "color": {"field": "s", "type": "nominal", "legend": null,
     "scale": {"range": ["#1f77b4", "#ff7f0e", "#2ca02c", "#d62728", "#9467bd", "#8c564b", "#e377c2", "#7f7f7f", "#bcbd22", "#17becf"]}}
  }
 },
 {
  "data": {"name": "offset"},
  "mark": {"type": "point", "opacity": 0},
  "encoding": {
   "x": {"field": "x", "type": "quantitative",
     "axis": {"orient": "bottom", "title": "1e10", "labels": false, "ticks": false, "domain": false, "titleAnchor": "end", "titleAlign": "right", "titleX": 567, "titleY": 39, "titleBaseline": "middle"}}
  }
 }
],
"resolve": {"axis": {"x": "independent"}}
}
